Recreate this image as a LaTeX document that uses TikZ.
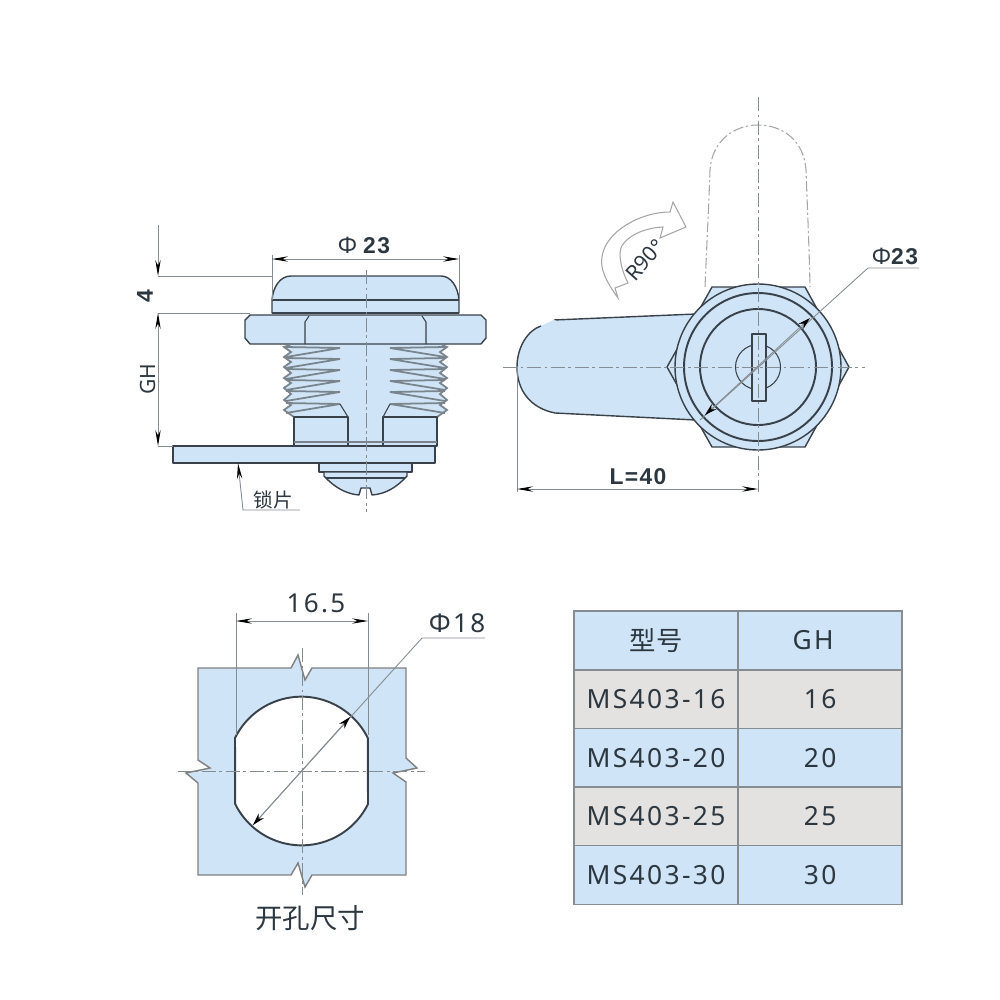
\documentclass[tikz,border=0pt]{standalone}
\usepackage{fontspec}
\setmainfont{Noto Sans}
\newfontfamily\cjk{Noto Sans CJK SC}
\newfontfamily\tabfont[LetterSpace=9]{Noto Sans}
\newfontfamily\boldfam[LetterSpace=6]{Liberation Sans}
\usetikzlibrary{positioning,calc,arrows.meta}
\definecolor{partblue}{HTML}{CFE4F6}
\definecolor{cellgray}{HTML}{E4E2E0}
\definecolor{outline}{HTML}{39424A}
\definecolor{threadgray}{HTML}{7A848C}
\definecolor{dimgray}{HTML}{858C92}
\definecolor{inkdark}{HTML}{2C3740}

\begin{document}
\begin{tikzpicture}[x=0.01cm, y=-0.01cm,
        part/.style={draw=outline, fill=partblue, line width=0.4pt, line join=round},
        heavy/.style={draw=outline, line width=0.55pt},
        thin/.style={draw=outline, line width=0.3pt},
        thread/.style={draw=threadgray, line width=0.5pt},
        dimline/.style={draw=dimgray, line width=0.25pt},
        dimarrow/.style={dimline, {Stealth[length=4.5pt,width=1.5pt,color=black]}-{Stealth[length=4.5pt,width=1.5pt,color=black]}},
        shortarrow/.style={dimline, {Stealth[length=3.5pt,width=2pt,color=black]}-{Stealth[length=3.5pt,width=2pt,color=black]}},
        center/.style={draw=dimgray, line width=0.25pt, dash pattern=on 4pt off 1pt on 0.8pt off 1pt},
        ghost/.style={draw=gray!70, line width=0.3pt, dash pattern=on 3pt off 0.8pt on 0.6pt off 0.8pt},
        dimtext/.style={text=inkdark, font=\fontsize{6}{7}\selectfont, inner sep=0pt},
        boldtext/.style={text=inkdark, font=\fontsize{6.5}{8}\boldfam\bfseries, inner sep=0pt},
        widetext/.style={text=inkdark, font=\fontsize{7.4}{9}\tabfont, inner sep=0pt},
        cell/.style={draw=dimgray, line width=0.4pt, minimum height=0.586cm, inner sep=0pt, outer sep=0pt,
            text=inkdark, font=\fontsize{7.5}{9}\tabfont},
        namecell/.style={cell, minimum width=1.64cm},
        sizecell/.style={cell, minimum width=1.64cm}
    ]
    \useasboundingbox (0,0) rectangle (1000,1000);

    % side view
    \path [fill=partblue] (284,344) -- (447,344) -- (447,417) -- (437,417) -- (437,446) -- (294,446) -- (294,417) -- (284,417) -- cycle;
    \path [part] (245,320) -- (250,315) -- (481,315) -- (486,320) -- (486,338) -- (481,344) -- (250,344) -- (245,338) -- cycle;
    \draw [thin] (305,344) -- (305,322) -- (309,316) (426,344) -- (426,322) -- (422,316);
    % outer edge of the threads, white outside the crests
    \path [fill=white] (283,345) -- (290,345) -- (284,347) -- (291,352) -- (284,357) -- (291,362) -- (284,367) -- (291,373) -- (284,378) -- (291,383) -- (284,388) -- (291,394) -- (284,400) -- (291,405) -- (284,410) -- (294,417) -- (283,417) -- cycle;
    \path [fill=white] (448,345) -- (442,345) -- (447,347) -- (440,352) -- (447,357) -- (440,362) -- (447,367) -- (440,373) -- (447,378) -- (440,383) -- (447,388) -- (440,394) -- (447,400) -- (440,405) -- (447,410) -- (437,417) -- (448,417) -- cycle;
    \draw [thread] (290,345) -- (284,347) -- (291,352) -- (284,357) -- (291,362) -- (284,367) -- (291,373) -- (284,378) -- (291,383) -- (284,388) -- (291,394) -- (284,400) -- (291,405) -- (284,410) -- (294,417);
    \draw [thread] (442,345) -- (447,347) -- (440,352) -- (447,357) -- (440,362) -- (447,367) -- (440,373) -- (447,378) -- (440,383) -- (447,388) -- (440,394) -- (447,400) -- (440,405) -- (447,410) -- (437,417);
    \foreach \ty in {348,359,370,381,392,404} {
        \draw [thread] (286,\ty+9) -- (340,\ty) -- (286,\ty-1);
        \draw [thread] (445,\ty+9) -- (390,\ty) -- (445,\ty-1);
    }
    \draw [thin] (340,404) -- (348,417) (390,404) -- (383,417);
    \draw [part, fill=none] (348,446) -- (348,417) -- (294,417) -- (294,446) -- (437,446) -- (437,417) -- (383,417) -- (383,446);
    \draw [draw=threadgray, line width=0.3pt] (294,442) -- (437,442);
    \path [part] (173,446) rectangle (435,463);
    \path [part] (319,463) -- (412,463) -- (412,472) -- (319,472) -- cycle;
    \path [part] (324,472) -- (324,476) .. controls (334,487) and (346,494) .. (359,495) -- (361,488) -- (370,488) -- (372,495) .. controls (386,494) and (397,487) .. (407,476) -- (407,472) -- cycle;
    \draw [thin] (326,478) -- (405,478);
    \path [part] (272,300) .. controls (273,287) and (280,276) .. (291,276) -- (441,276) .. controls (451,276) and (458,287) .. (459,300) -- (459,313) -- (272,313) -- cycle;
    \draw [heavy] (272,300) -- (459,300) (272,313) -- (459,313);
    \draw [center] (366,270) -- (366,512);

    \coordinate (capl) at (272,259);
    \coordinate (capr) at (459,259);
    \draw [dimline] (272,255) -- (272,300) (459,255) -- (459,300);
    \draw [dimarrow] (capl) -- (capr);
    \node [dimtext, font=\fontsize{6.5}{8}\selectfont] (capdia) at (364,245) {Φ {\boldfam\bfseries 23}};
    \coordinate (vtop) at (158,225);
    \coordinate (vcap) at (158,276);
    \coordinate (vnut) at (158,313);
    \coordinate (vbase) at (158,446);
    \draw [dimline] (vcap) -- (272,276) (vnut) -- (250,313) (vbase) -- (173,446);
    \draw [dimline, -{Stealth[length=4.5pt,width=1.5pt,color=black]}] (vtop) -- (vcap);
    \draw [dimarrow] (vnut) -- (vbase);
    \node [boldtext, rotate=90] (dimfour) at (145,296) {4};
    \node [dimtext, rotate=90] (dimgh) at (148,379) {GH};
    \coordinate (platetip) at (238,463);
    \coordinate (platebend) at (243,510);
    \coordinate (plateend) at (300,510);
    \draw [dimline, {Stealth[length=4.5pt,width=1.5pt,color=black]}-] (platetip) -- (platebend) -- (plateend);
    \node [dimtext, font=\fontsize{5.6}{7}\cjk] (platename) at (273,500) {锁片};

    % front view
    \path [part] (554,320) -- (696,314) -- (696,420) -- (555,413) .. controls (530,408) and (517,390) .. (517,367) .. controls (517,347) and (528,330) .. (541,326);
    \path [fill=partblue] (554,320) -- (541,326) -- (690,367) -- cycle;
    \draw [ghost] (705,287) .. controls (707,240) and (709,200) .. (710,170) .. controls (712,140) and (735,125) .. (758,125)
        .. controls (782,125) and (804,140) .. (806,170) .. controls (807,200) and (809,240) .. (810,287);
    \path [part] (667,367) -- (712,287) -- (805,287) -- (849,367) -- (805,447) -- (712,447) -- cycle;
    \coordinate (lockc) at (758,367);
    \path [part] (lockc) circle (83);
    \draw [heavy] (lockc) circle (74);
    \draw [heavy] (lockc) circle (58);
    \draw [thin] (lockc) circle (22.5);
    \path [part] (752,334) rectangle (766,401);
    \draw [center] (758,97) -- (758,492);
    \draw [center] (503,367) -- (865,367);
    \coordinate (lendl) at (517,489);
    \coordinate (lendr) at (758,489);
    \draw [dimline] (517,367) -- (517,492);
    \draw [dimarrow] (lendl) -- (lendr);
    \node [boldtext] (lengthlabel) at (638,477) {L=40};
    \coordinate (keyl) at (705,415);
    \coordinate (keyr) at (810,318);
    \coordinate (keystart) at (700,420);
    \coordinate (keybend) at (868,268);
    \coordinate (keyend) at (919,268);
    \draw [dimline] (keystart) -- (keybend) -- (keyend);
    \draw [shortarrow] (keyl) -- (keyr);
    \node [dimtext, font=\fontsize{6.5}{8}\selectfont] (keydia) at (895,256) {Φ{\boldfam\bfseries 23}};
    \draw [draw=gray!70, line width=0.3pt, fill=white] (618,298) .. controls (605,280) and (600,268) .. (602,257) .. controls (605,232) and (640,212) .. (670,212)
        -- (673,202) -- (686,227) -- (660,238) -- (663,227) .. controls (640,228) and (620,240) .. (620,253) .. controls (620,265) and (624,275) .. (628,283) -- (615,288) -- cycle;
    \node [dimtext, rotate=48] (turnlabel) at (645,260) {R90°};

    % cut-out
    \path [draw=gray, line width=0.4pt, fill=partblue] (198,668) -- (291,668) -- (298,655) -- (305,680) -- (312,668) -- (406,668) -- (406,758) -- (417,768) -- (393,773) -- (406,782)
        -- (406,875) -- (312,875) -- (305,887) -- (298,863) -- (291,875) -- (198,875) -- (198,783) -- (186,773) -- (210,768) -- (198,760) -- cycle;
    \path [heavy, fill=white] (235,738) arc[start angle=206.2, end angle=333.8, radius=74] -- (368,804) arc[start angle=26.2, end angle=153.8, radius=74] -- cycle;
    \draw [center] (302,648) -- (302,895);
    \draw [center] (178,771) -- (425,771);
    \coordinate (holel) at (236,621);
    \coordinate (holer) at (368,621);
    \draw [dimline] (236,613) -- (236,735) (368,613) -- (368,735);
    \draw [dimarrow] (holel) -- (holer);
    \node [widetext] (holewidth) at (316,603) {16.5};
    \coordinate (holea) at (253,825);
    \coordinate (holeb) at (350,717);
    \coordinate (holebend) at (422,638);
    \coordinate (holeend) at (485,638);
    \draw [dimline] (holea) -- (holebend) -- (holeend);
    \draw [shortarrow] (holea) -- (holeb);
    \node [widetext] (holedia) at (457,623) {Φ18};
    \node [dimtext, font=\fontsize{7.8}{9}\cjk] (holename) at (310,918) {开孔尺寸};

    % size table
    \node [namecell, fill=partblue, font=\fontsize{7.5}{9}\cjk] (head) at (656,640.5) {型号};
    \node [sizecell, fill=partblue, right=0pt of head, text=inkdark] (gh) {\kern-4.0pt GH};
    \node [namecell, fill=cellgray, below=0pt of head] (ms16) {MS403-16};
    \node [sizecell, fill=cellgray, right=0pt of ms16] (gh16) {16};
    \node [namecell, fill=partblue, below=0pt of ms16] (ms20) {MS403-20};
    \node [sizecell, fill=partblue, right=0pt of ms20] (gh20) {20};
    \node [namecell, fill=cellgray, below=0pt of ms20] (ms25) {MS403-25};
    \node [sizecell, fill=cellgray, right=0pt of ms25] (gh25) {25};
    \node [namecell, fill=partblue, below=0pt of ms25] (ms30) {MS403-30};
    \node [sizecell, fill=partblue, right=0pt of ms30] (gh30) {30};
\end{tikzpicture}
\end{document}
